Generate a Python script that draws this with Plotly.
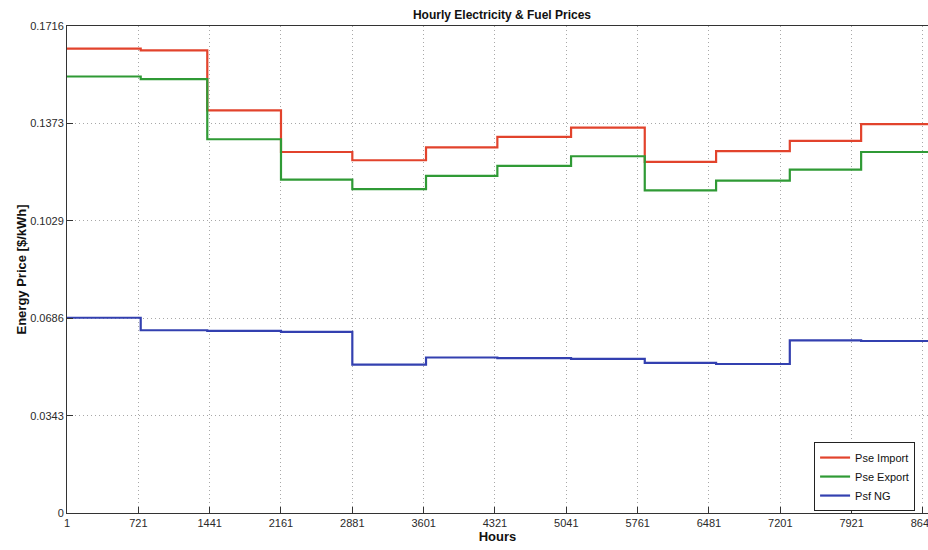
import plotly.graph_objects as go

# Step start hours (month boundaries) plus final hour
step_hours = [1, 745, 1417, 2161, 2881, 3625, 4345, 5089, 5833, 6553, 7297, 8017, 8760]

pse_import = [0.1636, 0.1630, 0.1419, 0.1272, 0.1243, 0.1288, 0.1325, 0.1358,
              0.1237, 0.1275, 0.1311, 0.1370]
pse_export = [0.1538, 0.1529, 0.1317, 0.1175, 0.1141, 0.1188, 0.1223, 0.1257,
              0.1137, 0.1171, 0.1210, 0.1272]
psf_ng = [0.0688, 0.0644, 0.0642, 0.0638, 0.0523, 0.0548, 0.0546, 0.0543,
          0.0529, 0.0525, 0.0608, 0.0606]

x_ticks = [1, 721, 1441, 2161, 2881, 3601, 4321, 5041, 5761, 6481, 7201, 7921, 8641]
y_ticks = [0, 0.0343, 0.0686, 0.1029, 0.1373, 0.1716]
y_tick_labels = ["0", "0.0343", "0.0686", "0.1029", "0.1373", "0.1716"]

series = [
    ("Pse Import", pse_import, "#e2432c"),
    ("Pse Export", pse_export, "#2f9a35"),
    ("Psf NG", psf_ng, "#3340b0"),
]

fig = go.Figure()
for name, vals, color in series:
    fig.add_trace(go.Scatter(
        x=step_hours, y=vals + [vals[-1]], mode="lines", name=name,
        line=dict(color=color, width=2.2, shape="hv"),
    ))

font_family = "Liberation Sans, Arial, sans-serif"

fig.update_layout(
    width=928, height=550,
    margin=dict(l=67, r=0, t=26, b=37, autoexpand=False),
    paper_bgcolor="white", plot_bgcolor="white",
    font=dict(family=font_family, size=11, color="#2a2a2a"),
    title=dict(text="<b>Hourly Electricity & Fuel Prices</b>",
               x=502 / 928, xanchor="center", y=1 - 15 / 550, yanchor="middle",
               font=dict(size=12, color="#111")),
    showlegend=True,
    legend=dict(x=0.985, y=0.004, xanchor="right", yanchor="bottom",
                bgcolor="white", bordercolor="#222", borderwidth=1,
                font=dict(size=11, color="#111"),
                tracegroupgap=0),
)

fig.update_xaxes(
    range=[1, 8692], tickvals=x_ticks, ticktext=[str(v) for v in x_ticks],
    ticklabeloverflow="allow", automargin=False,
    showline=True, linecolor="#333", linewidth=1, mirror=True,
    ticks="inside", ticklen=6, tickcolor="#333",
    showgrid=True, gridcolor="#a8a8a8", griddash="1px,3px", gridwidth=1,
    zeroline=False,
    title=dict(text="<b>Hours</b>", font=dict(size=13, color="#111"), standoff=2),
)
fig.update_yaxes(
    range=[0, 0.1716], tickvals=y_ticks, ticktext=y_tick_labels,
    automargin=False,
    showline=True, linecolor="#333", linewidth=1, mirror=False,
    ticks="inside", ticklen=6, tickcolor="#333",
    showgrid=True, gridcolor="#a8a8a8", griddash="1px,3px", gridwidth=1,
    zeroline=False,
    title=dict(text="<b>Energy Price [$/kWh]</b>", font=dict(size=13, color="#111"), standoff=0),
)

fig.write_html("out.html")
